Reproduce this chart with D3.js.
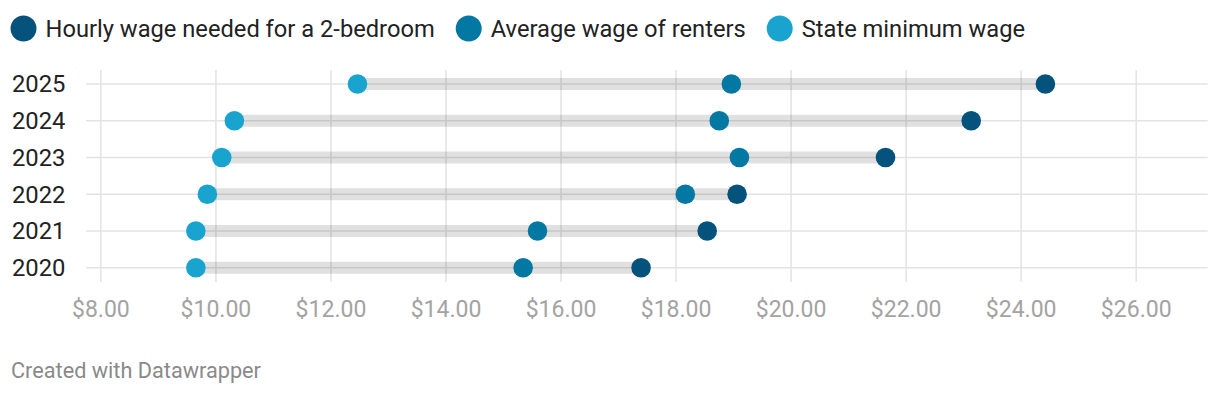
<!DOCTYPE html>
<html>
<head>
<meta charset="utf-8">
<script src="https://cdn.jsdelivr.net/npm/d3@7"></script>
<style>
  body { margin: 0; background: #fff; }
  svg { font-family: Roboto, "Noto Sans", sans-serif; display: block; }
</style>
</head>
<body>
<svg id="chart"></svg>
<script>
// data
var years = ["2025", "2024", "2023", "2022", "2021", "2020"];
var wageTwoBedroom = [24.43, 23.14, 21.65, 19.07, 18.55, 17.40];
var wageRenters = [18.97, 18.76, 19.11, 18.17, 15.60, 15.35];
var wageMinimum = [12.47, 10.33, 10.11, 9.86, 9.66, 9.66];
var seriesNames = ["Hourly wage needed for a 2-bedroom", "Average wage of renters", "State minimum wage"];
var seriesColors = ["#05537d", "#0278a2", "#19a4d0"];
var tickValues = [8, 10, 12, 14, 16, 18, 20, 22, 24, 26];

var width = 1220, height = 394;
var svg = d3.select("#chart").attr("width", width).attr("height", height);

var x = d3.scaleLinear().domain([7.75, 27.25]).range([86, 1207.6]);
var y = d3.scalePoint().domain(years).range([84, 267.7]);
var plotTop = 70, plotBottom = 282;

// legend
var legend = svg.append("g").attr("class", "legend");
var lx = 23.5;
seriesNames.forEach(function (name, i) {
    var g = legend.append("g").attr("transform", "translate(" + lx + ",28.5)");
    g.append("circle").attr("r", 13).attr("fill", seriesColors[i]);
    var t = g.append("text")
        .attr("x", 22)
        .attr("y", 8)
        .attr("font-size", 23.7)
        .attr("fill", "#222")
        .text(name);
    lx += 22 + t.node().getComputedTextLength() + 21 + 13;
});

// vertical grid + x labels
var xAxis = d3.axisBottom(x)
    .tickValues(tickValues)
    .tickFormat(d3.format("$.2f"))
    .tickSize(-(plotBottom - plotTop))
    .tickPadding(0);

var gx = svg.append("g")
    .attr("transform", "translate(0," + plotBottom + ")")
    .call(xAxis);
gx.select(".domain").remove();
gx.selectAll(".tick line").attr("stroke", "#e3e3e3").attr("stroke-width", 1.5);
gx.selectAll(".tick text")
    .attr("y", 34.7)
    .attr("dy", 0)
    .attr("font-size", 23)
    .attr("fill", "#a3a3a3")
    .attr("font-family", "Roboto, sans-serif");

// horizontal grid
svg.append("g").selectAll("line.row")
    .data(years).enter()
    .append("line")
    .attr("class", "row")
    .attr("x1", x.range()[0])
    .attr("x2", x.range()[1])
    .attr("y1", function (d) { return y(d); })
    .attr("y2", function (d) { return y(d); })
    .attr("stroke", "#e3e3e3")
    .attr("stroke-width", 1.5);

// year labels
svg.append("g").selectAll("text")
    .data(years).enter()
    .append("text")
    .attr("x", 12)
    .attr("y", function (d) { return y(d) + 8.4; })
    .attr("font-size", 23.8)
    .attr("fill", "#222")
    .text(function (d) { return d; });

// range bars
var rows = years.map(function (yr, i) {
    return { year: yr, vals: [wageTwoBedroom[i], wageRenters[i], wageMinimum[i]] };
});

svg.append("g").selectAll("line.range")
    .data(rows).enter()
    .append("line")
    .attr("class", "range")
    .attr("x1", function (d) { return x(d3.min(d.vals)); })
    .attr("x2", function (d) { return x(d3.max(d.vals)); })
    .attr("y1", function (d) { return y(d.year); })
    .attr("y2", function (d) { return y(d.year); })
    .attr("stroke", "#000")
    .attr("stroke-opacity", 0.12)
    .attr("stroke-width", 12);

// dots
var dots = svg.append("g");
rows.forEach(function (row) {
    dots.selectAll(null)
        .data(row.vals).enter()
        .append("circle")
        .attr("cx", function (d) { return x(d); })
        .attr("cy", y(row.year))
        .attr("r", 9.8)
        .attr("fill", function (d, i) { return seriesColors[i]; });
});

// credit
svg.append("text")
    .attr("x", 11)
    .attr("y", 378)
    .attr("font-size", 21.7)
    .attr("fill", "#8a8a8a")
    .text("Created with Datawrapper");
</script>
</body>
</html>
